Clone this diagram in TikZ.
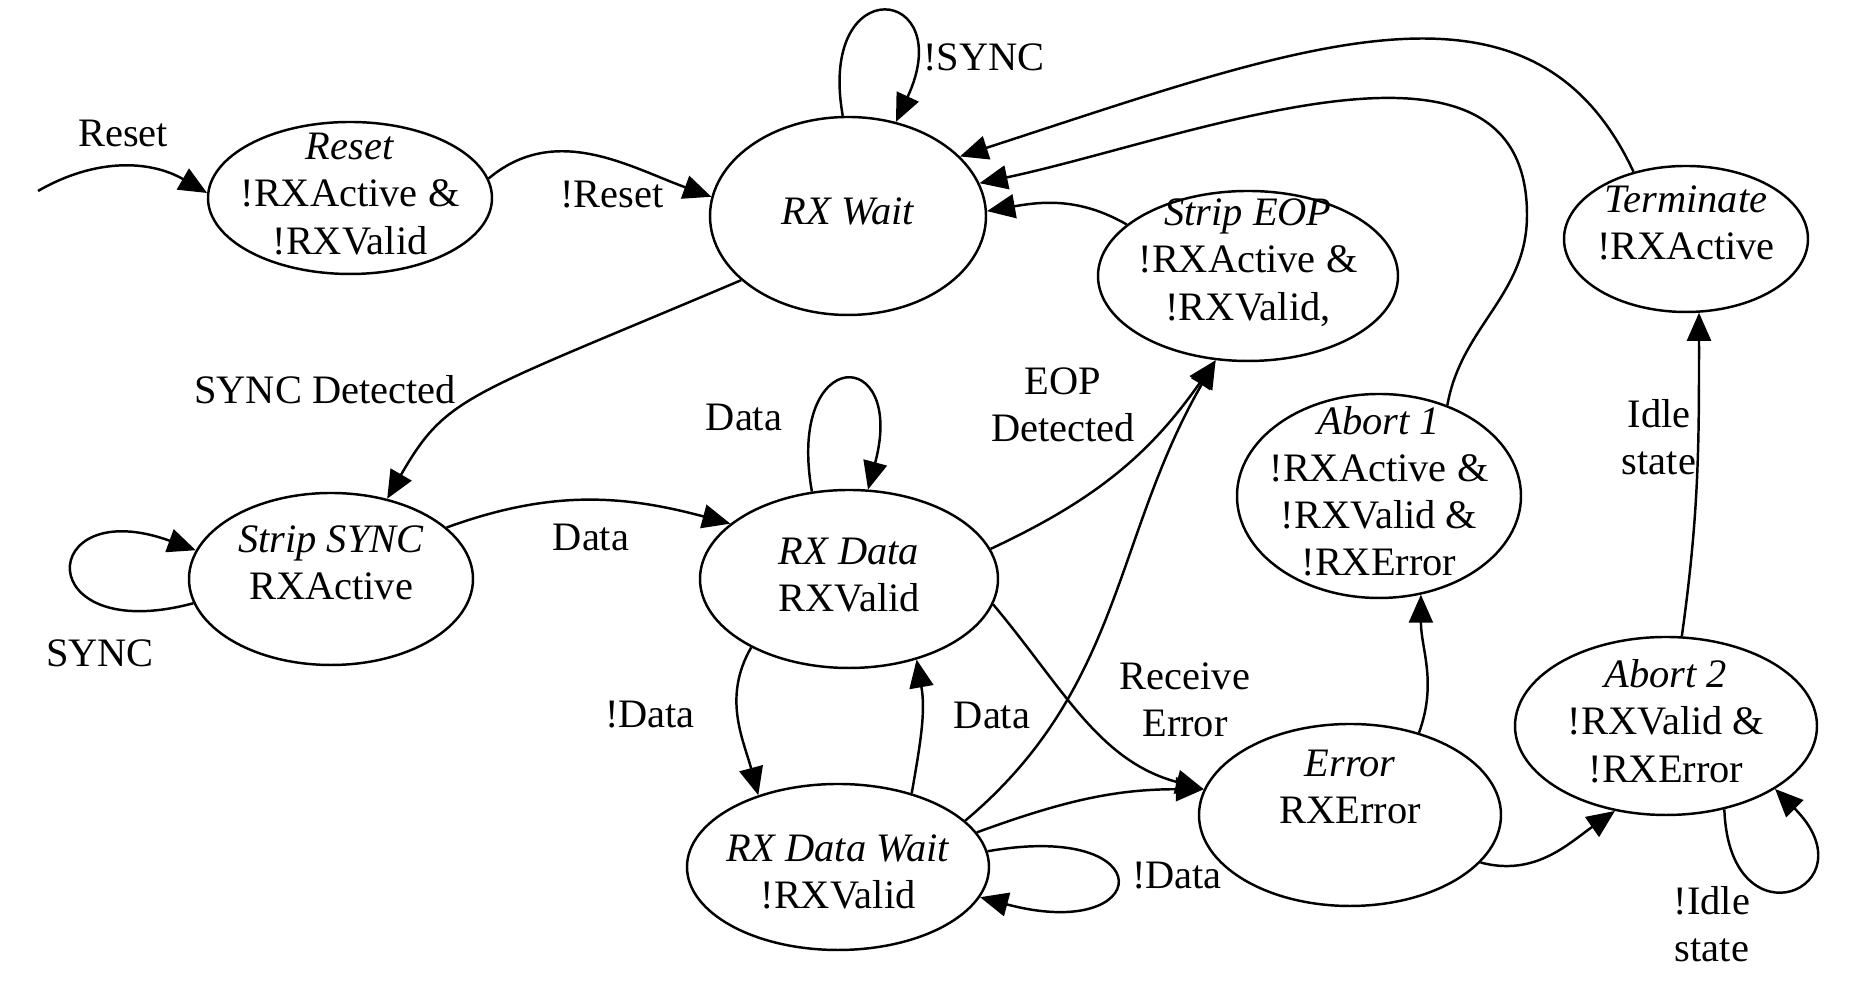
\documentclass[tikz,border=0pt]{standalone}
\usepackage{fontspec}
\setmainfont{Liberation Serif}
\usetikzlibrary{arrows.meta,shapes.geometric}

% state text: zero-size box, centred on the node
\newcommand{\sttext}[2][0pt]{\makebox[0pt]{\raisebox{\dimexpr#1-0.25em\relax}[0pt][0pt]{\begin{tabular}{@{}c@{}}#2\end{tabular}}}}

\begin{document}
\begin{tikzpicture}[
  font=\fontsize{11.5}{13.4}\selectfont,
  line width=0.7pt,
  state/.style={draw,ellipse,inner sep=0pt},
  lbl/.style={align=center,inner sep=1pt},
  >={Triangle[length=2.8mm,width=2.4mm]}
]
\useasboundingbox (0,0) rectangle (18.52,10.05);

% states
\node[state,minimum width=2.84cm,minimum height=1.52cm] (reset) at (3.50,8.07)
  {\sttext{\textit{Reset}\\!RXActive \&\\!RXValid}};
\node[state,minimum width=2.76cm,minimum height=1.98cm] (rxwait) at (8.48,7.89)
  {\sttext{\textit{RX Wait}}};
\node[state,minimum width=3.00cm,minimum height=1.70cm] (stripeop) at (12.48,7.29)
  {\sttext[0.12cm]{\textit{Strip EOP}\\!RXActive \&\\!RXValid,}};
\node[state,minimum width=2.44cm,minimum height=1.46cm] (terminate) at (16.86,7.66)
  {\sttext[0.12cm]{\textit{Terminate}\\!RXActive}};
\node[state,minimum width=2.84cm,minimum height=1.72cm] (stripsync) at (3.31,4.26)
  {\sttext[0.12cm]{\textit{Strip SYNC}\\RXActive}};
\node[state,minimum width=2.98cm,minimum height=1.78cm] (rxdata) at (8.49,4.26)
  {\sttext{\textit{RX Data}\\RXValid}};
\node[state,minimum width=3.02cm,minimum height=1.66cm] (rxdatawait) at (8.38,1.38)
  {\sttext[-0.09cm]{\textit{RX Data Wait}\\!RXValid}};
\node[state,minimum width=2.84cm,minimum height=2.04cm] (abort1) at (13.79,5.09)
  {\sttext{\textit{Abort 1}\\!RXActive \&\\!RXValid \&\\!RXError}};
\node[state,minimum width=3.02cm,minimum height=1.82cm] (error) at (13.50,1.90)
  {\sttext[0.24cm]{\textit{Error}\\RXError}};
\node[state,minimum width=3.02cm,minimum height=1.78cm] (abort2) at (16.66,2.79)
  {\sttext{\textit{Abort 2}\\!RXValid \&\\!RXError}};

\coordinate (start) at (0.38,8.14);

% transitions
\draw[->] (start) to[out=30,in=150] (reset.178);
\draw[->] (reset.8) to[out=40,in=160] (rxwait.172);
\draw[->] (rxwait.93) .. controls +(100:1.5) and +(65:1.5) .. (rxwait.63);
\draw[->] (rxwait.211) .. controls +(203:3) and +(60:1.2) .. (stripsync.55);
\draw[->] (stripsync.190) .. controls +(195:1.7) and +(160:1.7) .. (stripsync.168);
\draw[->] (stripsync.24) to[out=20,in=165] (rxdata.155);
\draw[->] (rxdata.113) .. controls +(100:1.5) and +(75:1.5) .. (rxdata.78);
\draw[->] (rxdata.12) to[out=25,in=235] (stripeop.249);
\draw[->] (rxdata.215) to[out=240,in=105] (rxdatawait.138);
\draw[->] (rxdatawait.45) to[out=80,in=-80] (rxdata.-50);
\draw[->] (rxdata.-10) to[out=-50,in=165] (error.170);
\draw[->] (rxdatawait.20) to[out=40,in=240] (stripeop.249);
\draw[->] (rxdatawait.14) to[out=20,in=180] (error.170);
\draw[->] (rxdatawait.6) .. controls +(10:1.8) and +(-15:1.8) .. (rxdatawait.-12);
\draw[->] (error.50) to[out=70,in=-90] (abort1.-67);
\draw[->] (error.-20) to[out=-15,in=215] (abort2.239);
\draw[->] (abort2.80) to[out=82,in=-90] (terminate.-80);
\draw[->] (abort2.-55) .. controls +(-88:1.4) and +(-45:1.4) .. (abort2.-30);
\draw[->] (stripeop.157) to[out=150,in=10] (rxwait.2);
\draw[->] (abort1.53) to[out=80,in=-90] (15.27,7.9) to[out=90,in=12] (rxwait.14);
\draw[->] (terminate.128) .. controls +(115:2.4) and +(18:3.6) .. (rxwait.28);

% labels
\node[lbl] (lreset)    at (1.23,8.72)  {Reset};
\node[lbl] (lnreset)   at (6.12,8.10)  {!Reset};
\node[lbl] (lnsync)    at (9.84,9.48)  {!SYNC};
\node[lbl] (lsyncdet)  at (3.25,6.15)  {SYNC Detected};
\node[lbl] (lsync)     at (1.00,3.52)  {SYNC};
\node[lbl] (ldata)     at (5.91,4.68)  {Data};
\node[lbl] (ldataloop) at (7.44,5.88)  {Data};
\node[lbl] (leop)      at (10.63,6.00) {EOP\\Detected};
\node[lbl] (lndata)    at (6.50,2.90)  {!Data};
\node[lbl] (ldataback) at (9.92,2.90)  {Data};
\node[lbl] (lrxerr)    at (11.85,3.05) {Receive\\Error};
\node[lbl] (lndloop)   at (11.77,1.29) {!Data};
\node[lbl] (lidle)     at (16.59,5.68) {Idle\\state};
\node[lbl] (lnidle)    at (17.12,0.81) {!Idle\\state};
\end{tikzpicture}
\end{document}
